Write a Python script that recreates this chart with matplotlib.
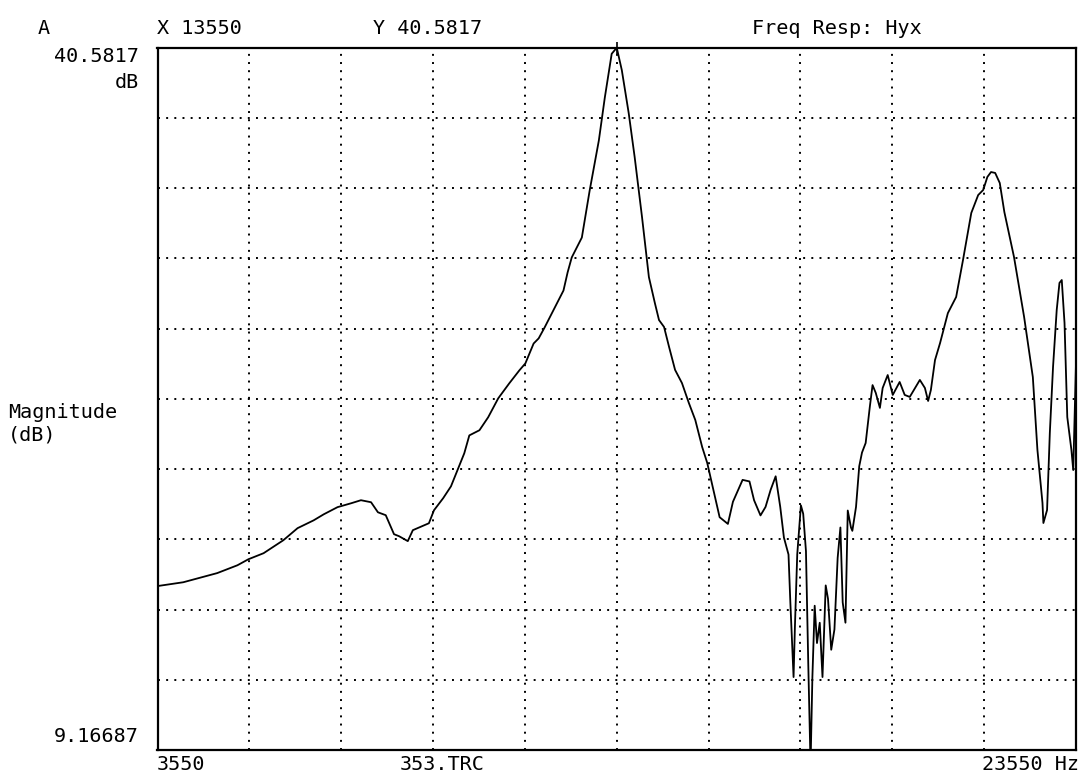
#!/usr/bin/env python3
"""Frequency response Hyx, trace 353.TRC, redrawn from a plotter screenshot."""
import matplotlib

matplotlib.use("Agg")
import matplotlib.pyplot as plt
import numpy as np

# x range of the trace (Hz) and y range (dB)
f_start, f_stop = 3550, 23550
db_top, db_bottom = 40.5817, 9.16687

cursor_x = 13550
cursor_y = 40.5817

freq_hz = [
    3550, 4110, 4850, 5290, 5530, 5860, 6290, 6600, 6950, 7170,
    7470, 7760, 7980, 8200, 8350, 8520, 8700, 8810, 9000, 9110,
    9460, 9570, 9770, 9940, 10100, 10230, 10340, 10560, 10750, 10970,
    11210, 11430, 11560, 11740, 11850, 11980, 12200, 12390, 12480, 12570,
    12790, 12960, 13160, 13290, 13440, 13550,
    13660, 13810, 13940, 14100, 14250, 14380, 14470, 14580, 14690, 14820,
    14970, 15120, 15260, 15410, 15520,
    15690, 15790, 15970, 16080, 16290, 16440, 16540, 16680, 16790, 16900,
    17010, 17110, 17190, 17290, 17330, 17400, 17430, 17480, 17560, 17610,
    17670, 17720, 17770, 17810, 17860, 17910, 17970, 18030, 18100, 18150,
    18220, 18290, 18360, 18420, 18470, 18530, 18580, 18650, 18680, 18760,
    18830, 18890,
    18970, 19060, 19120, 19190, 19280, 19340, 19450, 19560, 19710, 19820,
    19930, 20150, 20260, 20330, 20390, 20480, 20590,
    20760, 20940, 21090, 21270, 21420, 21530, 21620, 21700, 21790, 21890,
    21990, 22200, 22420, 22610, 22710, 22820, 22840, 22920, 22980, 23050,
    23130, 23190, 23240, 23300, 23360, 23450, 23490, 23550,
]

mag_db = [
    16.50, 16.67, 17.08, 17.43, 17.70, 17.97, 18.55, 19.09, 19.44, 19.71,
    20.03, 20.20, 20.34, 20.25, 19.80, 19.67, 18.82, 18.73, 18.51, 19.00,
    19.31, 19.89, 20.43, 20.96, 21.77, 22.44, 23.24, 23.47, 24.05, 24.90,
    25.57, 26.15, 26.46, 27.35, 27.58, 28.07, 28.96, 29.72, 30.53, 31.20,
    32.09, 34.19, 36.43, 38.35, 40.31, 40.58,
    39.58, 37.66, 35.69, 33.01, 30.32, 29.16, 28.40, 28.09, 27.19, 26.17,
    25.58, 24.69, 23.93, 22.72, 22.01,
    20.49, 19.58, 19.28, 20.27, 21.25, 21.18, 20.34, 19.66, 20.04, 20.80,
    21.41, 20.04, 18.67, 17.91, 15.77, 12.43, 14.71, 17.91, 20.11, 19.73,
    18.06, 13.04, 8.50, 12.43, 15.62, 13.95, 14.86, 12.43, 16.53, 15.93,
    13.65, 14.56, 17.76, 19.12, 15.77, 14.86, 19.88, 19.12, 18.97, 20.04,
    21.86, 22.47,
    22.90, 24.51, 25.49, 25.14, 24.47, 25.36, 25.94, 25.05, 25.63, 25.05,
    24.96, 25.72, 25.36, 24.78, 25.27, 26.61, 27.37,
    28.71, 29.43, 31.09, 33.19, 33.99, 34.22, 34.80, 35.02, 34.98, 34.53,
    33.23, 31.22, 28.54, 25.85, 22.59, 20.22, 19.32, 19.90, 23.35, 26.30,
    28.85, 30.06, 30.19, 28.27, 24.06, 22.59, 21.69, 26.48,
]

W, H = 1086, 779


def fx(px):
    return px / W


def fy(py):
    return 1 - py / H


fig = plt.figure(figsize=(W / 100, H / 100), dpi=100)
left, right, top, bottom = 157.5, 1076, 47.7, 750
ax = fig.add_axes([fx(left), fy(bottom), (right - left) / W, (bottom - top) / H])

ax.plot(freq_hz, mag_db, color="black", linewidth=1.3)
ax.plot([cursor_x], [cursor_y], marker="|", color="black", markersize=9,
        markeredgewidth=1.2, clip_on=False)

ax.set_xlim(f_start, f_stop)
ax.set_ylim(db_bottom, db_top)

step_x = (f_stop - f_start) / 10
step_y = (db_top - db_bottom) / 10
dot = (0, (1, 3.2))
for i in range(1, 10):
    ax.axvline(f_start + i * step_x, color="black", linewidth=1.4, linestyle=dot, zorder=0)
    ax.axhline(db_bottom + i * step_y, color="black", linewidth=1.4, linestyle=dot, zorder=0)

ax.set_xticks([])
ax.set_yticks([])
for s in ax.spines.values():
    s.set_linewidth(1.6)
    s.set_color("black")

font = dict(family="DejaVu Sans Mono", fontsize=14.5, color="black")
fig.text(fx(38), fy(28), "A", ha="left", va="center", **font)
fig.text(fx(157), fy(28), f"X {cursor_x}", ha="left", va="center", **font)
fig.text(fx(373), fy(28), f"Y {cursor_y}", ha="left", va="center", **font)
fig.text(fx(752), fy(28), "Freq Resp: Hyx", ha="left", va="center", **font)
fig.text(fx(139), fy(57), f"{db_top}", ha="right", va="center", **font)
fig.text(fx(139), fy(83), "dB", ha="right", va="center", **font)
fig.text(fx(8), fy(413), "Magnitude", ha="left", va="center", **font)
fig.text(fx(8), fy(435), "(dB)", ha="left", va="center", **font)
fig.text(fx(139), fy(737), f"{db_bottom}", ha="right", va="center", **font)
fig.text(fx(157), fy(764), f"{f_start}", ha="left", va="center", **font)
fig.text(fx(400), fy(764), "353.TRC", ha="left", va="center", **font)
fig.text(fx(1079), fy(764), f"{f_stop} Hz", ha="right", va="center", **font)

fig.savefig("out.png", dpi=100, facecolor="white")
plt.close(fig)
